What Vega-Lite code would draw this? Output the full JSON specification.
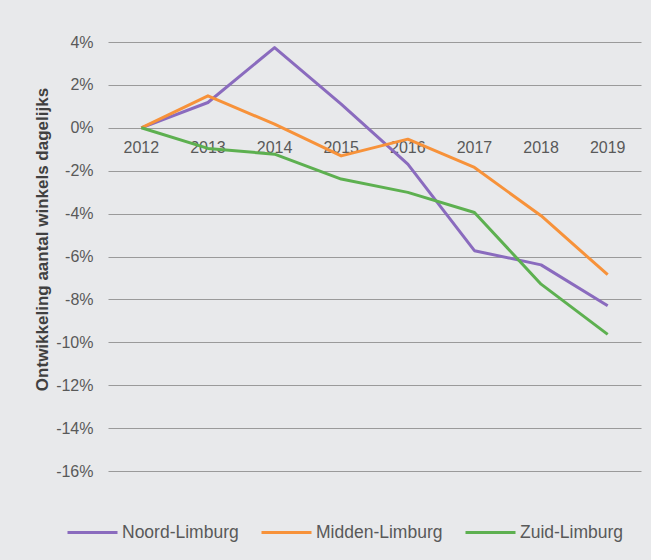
{
  "$schema": "https://vega.github.io/schema/vega-lite/v6.json",
  "width": 533,
  "height": 429,
  "autosize": {"type": "none"},
  "padding": {"left": 108, "top": 42, "right": 10, "bottom": 89},
  "background": "#e8e9eb",
  "config": {
    "view": {"stroke": null},
    "font": "Liberation Sans"
  },
  "data": {
    "values": [
      {"jaar": "2012", "regio": "Noord-Limburg", "waarde": 0},
      {"jaar": "2013", "regio": "Noord-Limburg", "waarde": 1.18},
      {"jaar": "2014", "regio": "Noord-Limburg", "waarde": 3.74},
      {"jaar": "2015", "regio": "Noord-Limburg", "waarde": 1.1},
      {"jaar": "2016", "regio": "Noord-Limburg", "waarde": -1.69},
      {"jaar": "2017", "regio": "Noord-Limburg", "waarde": -5.73},
      {"jaar": "2018", "regio": "Noord-Limburg", "waarde": -6.39},
      {"jaar": "2019", "regio": "Noord-Limburg", "waarde": -8.3},
      {"jaar": "2012", "regio": "Midden-Limburg", "waarde": 0},
      {"jaar": "2013", "regio": "Midden-Limburg", "waarde": 1.49},
      {"jaar": "2014", "regio": "Midden-Limburg", "waarde": 0.17},
      {"jaar": "2015", "regio": "Midden-Limburg", "waarde": -1.31},
      {"jaar": "2016", "regio": "Midden-Limburg", "waarde": -0.53},
      {"jaar": "2017", "regio": "Midden-Limburg", "waarde": -1.85},
      {"jaar": "2018", "regio": "Midden-Limburg", "waarde": -4.1},
      {"jaar": "2019", "regio": "Midden-Limburg", "waarde": -6.85},
      {"jaar": "2012", "regio": "Zuid-Limburg", "waarde": 0},
      {"jaar": "2013", "regio": "Zuid-Limburg", "waarde": -0.96},
      {"jaar": "2014", "regio": "Zuid-Limburg", "waarde": -1.23},
      {"jaar": "2015", "regio": "Zuid-Limburg", "waarde": -2.39},
      {"jaar": "2016", "regio": "Zuid-Limburg", "waarde": -3.01},
      {"jaar": "2017", "regio": "Zuid-Limburg", "waarde": -3.95},
      {"jaar": "2018", "regio": "Zuid-Limburg", "waarde": -7.29},
      {"jaar": "2019", "regio": "Zuid-Limburg", "waarde": -9.63}
    ]
  },
  "mark": {"type": "line", "strokeWidth": 3, "strokeJoin": "round", "strokeCap": "butt"},
  "encoding": {
    "x": {
      "field": "jaar",
      "type": "nominal",
      "sort": null,
      "scale": {"type": "band", "paddingInner": 0, "paddingOuter": 0},
      "axis": {
        "title": null,
        "orient": "bottom",
        "offset": -344,
        "domain": false,
        "ticks": false,
        "grid": false,
        "labelAngle": 0,
        "labelFontSize": 16,
        "labelColor": "#595959",
        "labelPadding": 12
      }
    },
    "y": {
      "field": "waarde",
      "type": "quantitative",
      "scale": {"domain": [-16, 4], "nice": false, "zero": false},
      "axis": {
        "values": [-16, -14, -12, -10, -8, -6, -4, -2, 0, 2, 4],
        "labelExpr": "datum.value + '%'",
        "domain": false,
        "ticks": false,
        "grid": true,
        "gridColor": "#9a9a9a",
        "gridWidth": 1.2,
        "labelFontSize": 16,
        "labelColor": "#595959",
        "labelPadding": 15,
        "title": "Ontwikkeling aantal winkels dagelijks",
        "titleFontSize": 17,
        "titleFontWeight": "bold",
        "titleColor": "#404040",
        "titleX": -61,
        "titleY": 197,
        "titleAngle": -90,
        "titleAlign": "center",
        "titleBaseline": "alphabetic"
      }
    },
    "color": {
      "field": "regio",
      "type": "nominal",
      "scale": {
        "domain": ["Noord-Limburg", "Midden-Limburg", "Zuid-Limburg"],
        "range": ["#8a6bbe", "#f7923a", "#5db050"]
      },
      "legend": {
        "title": null,
        "orient": "none",
        "direction": "horizontal",
        "legendX": -42,
        "legendY": 464,
        "symbolType": "stroke",
        "symbolSize": 2500,
        "symbolStrokeWidth": 3,
        "labelFontSize": 17.5,
        "labelColor": "#595959",
        "labelOffset": 3,
        "columnPadding": 16
      }
    }
  }
}
